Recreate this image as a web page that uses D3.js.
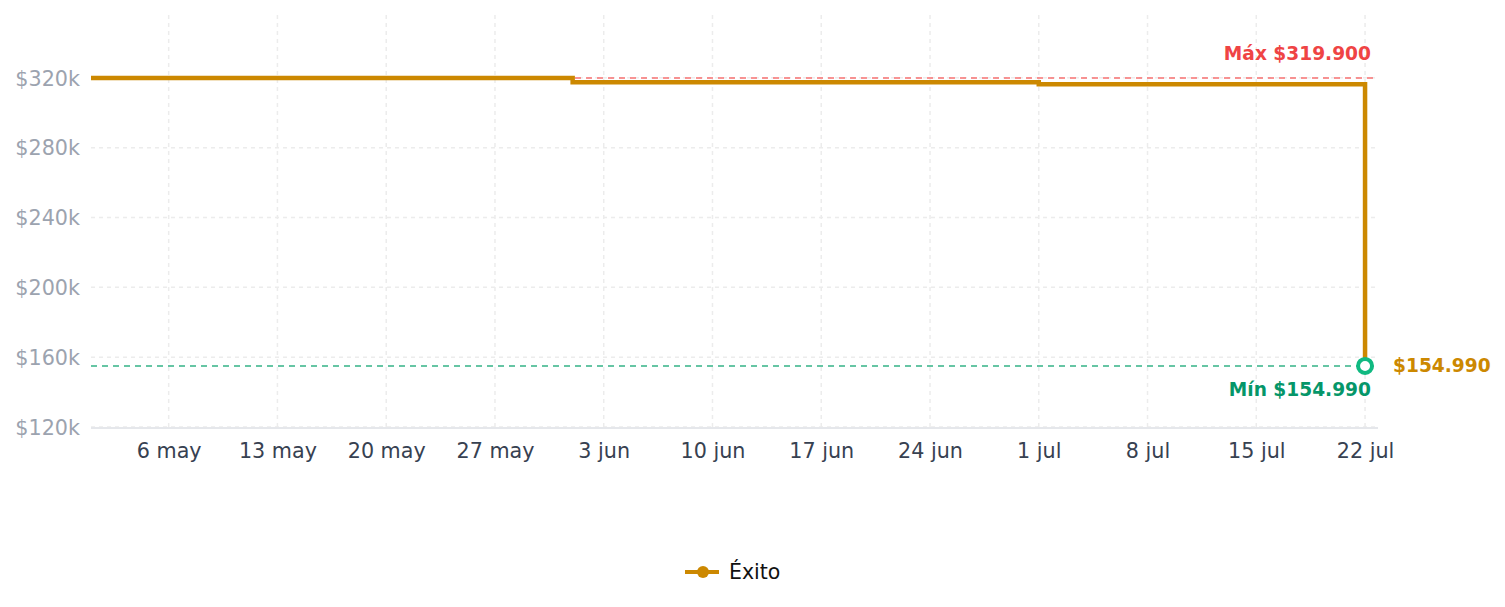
<!DOCTYPE html>
<html>
<head>
<meta charset="utf-8">
<script src="https://cdn.jsdelivr.net/npm/d3@7"></script>
<style>
  body { margin: 0; background: #fff; font-family: 'DejaVu Sans', sans-serif; }
  .grid line { stroke: #ececec; stroke-dasharray: 4 4; stroke-width: 1.5; }
  .axis path, .axis line { display: none; }
  .axis text { font-family: 'DejaVu Sans', sans-serif; }
  .y-axis text { fill: #9ca3af; font-size: 20.7px; }
  .x-axis text { fill: #374151; font-size: 20.7px; }
</style>
</head>
<body>
<svg id="chart"></svg>
<script>
// price history (COP), one entry per price change
const priceDates = ['2024-05-01', '2024-06-01', '2024-07-01', '2024-07-22'];
const priceValues = [319900, 317500, 316300, 154990];

const yTicks = [120000, 160000, 200000, 240000, 280000, 320000];
const tickDates = ['2024-05-06', '2024-05-13', '2024-05-20', '2024-05-27', '2024-06-03', '2024-06-10',
  '2024-06-17', '2024-06-24', '2024-07-01', '2024-07-08', '2024-07-15', '2024-07-22'];
const tickLabels = ['6 may', '13 may', '20 may', '27 may', '3 jun', '10 jun',
  '17 jun', '24 jun', '1 jul', '8 jul', '15 jul', '22 jul'];

const seriesName = 'Éxito';
const maxLabel = 'Máx $319.900';
const minLabel = 'Mín $154.990';
const lastLabel = '$154.990';

class StepChart {
  constructor(_config) {
    this.config = {
      parentElement: _config.parentElement,
      containerWidth: _config.containerWidth || 1505,
      containerHeight: _config.containerHeight || 607,
      margin: _config.margin || {
        top: 15, right: 127, bottom: 180, left: 91,
      },
    };
    this.initVis();
  }

  initVis() {
    const vis = this;
    vis.width = vis.config.containerWidth - vis.config.margin.left - vis.config.margin.right;
    vis.height = vis.config.containerHeight - vis.config.margin.top - vis.config.margin.bottom;

    vis.parse = d3.timeParse('%Y-%m-%d');
    vis.data = priceDates.map((d, i) => ({ date: vis.parse(d), price: priceValues[i] }));

    // domain runs a little past the last point
    const end = new Date(vis.parse('2024-07-22').getTime() + 20 * 3600 * 1000);
    vis.xScale = d3.scaleTime()
      .domain([vis.parse('2024-05-01'), end])
      .range([0, vis.width]);

    vis.yScale = d3.scaleLinear()
      .domain([120000, 356000])
      .range([vis.height, 0]);

    vis.svg = d3.select(vis.config.parentElement)
      .attr('width', vis.config.containerWidth)
      .attr('height', vis.config.containerHeight);

    vis.chart = vis.svg.append('g')
      .attr('transform', `translate(${vis.config.margin.left},${vis.config.margin.top})`);

    vis.renderVis();
  }

  renderVis() {
    const vis = this;
    const xs = tickDates.map(vis.parse);

    // grid
    vis.chart.append('g').attr('class', 'grid')
      .selectAll('line').data(yTicks).join('line')
      .attr('x1', 0).attr('x2', vis.width)
      .attr('y1', (d) => vis.yScale(d)).attr('y2', (d) => vis.yScale(d));
    vis.chart.append('g').attr('class', 'grid')
      .selectAll('line').data(xs).join('line')
      .attr('x1', (d) => vis.xScale(d)).attr('x2', (d) => vis.xScale(d))
      .attr('y1', 0).attr('y2', vis.height);

    // baseline
    vis.chart.append('line')
      .attr('x1', 0).attr('x2', vis.width)
      .attr('y1', vis.height + 1).attr('y2', vis.height + 1)
      .attr('stroke', '#e5e7eb').attr('stroke-width', 2);

    // axes
    vis.chart.append('g')
      .attr('class', 'axis y-axis')
      .call(d3.axisLeft(vis.yScale).tickValues(yTicks).tickSize(0).tickPadding(11)
        .tickFormat((d) => `$${d / 1000}k`))
      .selectAll('text').attr('dy', '0.35em');

    vis.chart.append('g')
      .attr('class', 'axis x-axis')
      .attr('transform', `translate(0,${vis.height})`)
      .call(d3.axisBottom(vis.xScale).tickValues(xs).tickSize(0).tickPadding(16)
        .tickFormat((d, i) => tickLabels[i]));

    const maxV = d3.max(priceValues);
    const minV = d3.min(priceValues);

    // max / min reference lines
    vis.chart.append('line')
      .attr('x1', 0).attr('x2', vis.width)
      .attr('y1', vis.yScale(maxV)).attr('y2', vis.yScale(maxV))
      .attr('stroke', '#f87171').attr('stroke-width', 1.5).attr('stroke-dasharray', '6 5');
    vis.chart.append('line')
      .attr('x1', 0).attr('x2', vis.width)
      .attr('y1', vis.yScale(minV)).attr('y2', vis.yScale(minV))
      .attr('stroke', '#34b386').attr('stroke-width', 1.5).attr('stroke-dasharray', '6 5');

    vis.chart.append('text')
      .attr('x', vis.width - 7).attr('y', vis.yScale(maxV) - 18)
      .attr('text-anchor', 'end')
      .style('font-size', '18.6px').style('font-weight', 'bold').attr('fill', '#ef4444')
      .text(maxLabel);
    vis.chart.append('text')
      .attr('x', vis.width - 7).attr('y', vis.yScale(minV) + 30)
      .attr('text-anchor', 'end')
      .style('font-size', '18.6px').style('font-weight', 'bold').attr('fill', '#059669')
      .text(minLabel);

    // price line
    const line = d3.line()
      .x((d) => vis.xScale(d.date))
      .y((d) => vis.yScale(d.price))
      .curve(d3.curveStepAfter);

    vis.chart.append('path')
      .datum(vis.data)
      .attr('fill', 'none')
      .attr('stroke', '#cc8800')
      .attr('stroke-width', 4.5)
      .attr('d', line);

    const last = vis.data[vis.data.length - 1];
    vis.chart.append('circle')
      .attr('cx', vis.xScale(last.date)).attr('cy', vis.yScale(last.price))
      .attr('r', 7)
      .attr('fill', '#fff').attr('stroke', '#10b981').attr('stroke-width', 4);

    vis.chart.append('text')
      .attr('x', vis.xScale(last.date) + 28).attr('y', vis.yScale(last.price))
      .attr('dy', '0.35em')
      .style('font-size', '18.6px').style('font-weight', 'bold').attr('fill', '#cc8800')
      .text(lastLabel);

    // legend
    const lx = 703;
    const ly = 572;
    vis.svg.append('line')
      .attr('x1', lx - 18).attr('x2', lx + 16).attr('y1', ly).attr('y2', ly)
      .attr('stroke', '#cc8800').attr('stroke-width', 4);
    vis.svg.append('circle').attr('cx', lx).attr('cy', ly).attr('r', 6).attr('fill', '#cc8800');
    vis.svg.append('text')
      .attr('x', lx + 26).attr('y', ly).attr('dy', '0.35em')
      .style('font-size', '20.5px').attr('fill', '#111')
      .text(seriesName);
  }
}

new StepChart({ parentElement: '#chart' });
</script>
</body>
</html>
